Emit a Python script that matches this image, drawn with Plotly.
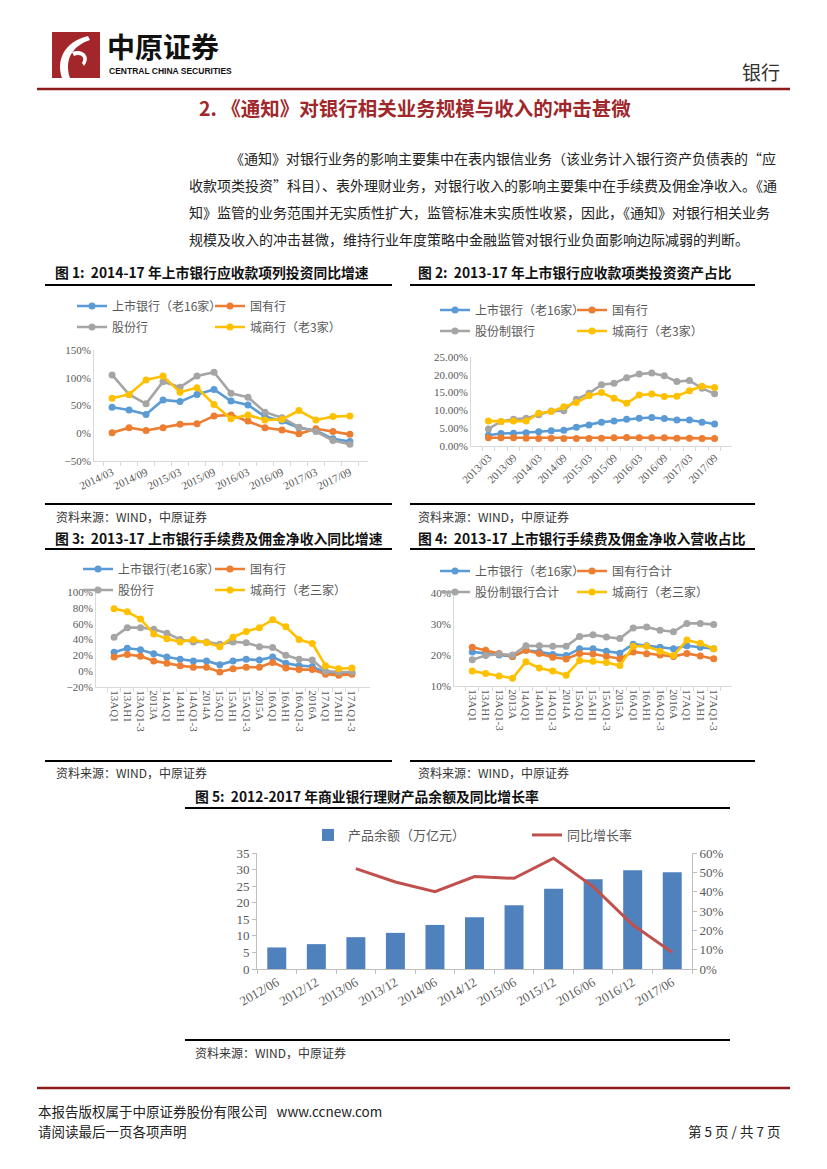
import plotly.graph_objects as go

W, H = 827, 1169
def X(px): return px / W
def Y(py): return 1 - py / H

CJK = "Noto Sans CJK SC"
NUM = "Liberation Serif, Noto Sans CJK SC"
C_BLUE, C_ORANGE, C_GRAY, C_YELLOW = "#5B9BD5", "#ED7D31", "#A5A5A5", "#FFC000"
AX = "#D9D9D9"
TXT = "#595959"

# ---------------- data ----------------
# Fig 1
f1_cats = ["2014/03", "2014/06", "2014/09", "2014/12", "2015/03", "2015/06", "2015/09", "2015/12",
           "2016/03", "2016/06", "2016/09", "2016/12", "2017/03", "2017/06", "2017/09"]
f1_names = ["上市银行（老16家）", "国有行", "股份行", "城商行（老3家）"]
f1_listed = [47, 42, 34, 60, 57, 70, 79, 58, 51, 30, 22, 10, 5, -10, -15]
f1_state = [1, 10, 5, 10, 16, 17, 31, 33, 22, 10, 6, -1, 8, 3, -2]
f1_joint = [105, 70, 53, 93, 83, 103, 110, 72, 65, 38, 28, 11, 3, -13, -20]
f1_city = [63, 70, 96, 103, 74, 82, 52, 26, 33, 24, 25, 41, 24, 30, 31]

# Fig 2
f2_cats = ["2013/03", "2013/06", "2013/09", "2013/12", "2014/03", "2014/06", "2014/09", "2014/12",
           "2015/03", "2015/06", "2015/09", "2015/12", "2016/03", "2016/06", "2016/09", "2016/12",
           "2017/03", "2017/06", "2017/09"]
f2_names = ["上市银行（老16家）", "国有行", "股份制银行", "城商行（老3家）"]
f2_listed = [3.0, 3.5, 3.6, 3.7, 4.0, 4.3, 4.4, 5.3, 5.9, 6.7, 7.0, 7.5, 7.8, 8.0, 7.7, 7.3, 7.3, 6.7, 6.2]
f2_state = [2.3, 2.3, 2.3, 2.2, 2.1, 2.2, 2.1, 2.1, 2.1, 2.2, 2.3, 2.4, 2.3, 2.3, 2.3, 2.2, 2.2, 2.1, 2.1]
f2_joint = [4.8, 6.9, 7.5, 7.8, 8.8, 9.8, 9.9, 13.1, 14.8, 17.2, 17.6, 19.2, 20.2, 20.5, 19.7, 18.1, 18.4, 16.2, 14.7]
f2_city = [7.0, 6.9, 7.0, 7.0, 9.2, 9.7, 11.0, 12.2, 14.1, 15.0, 13.4, 12.0, 14.3, 14.6, 13.9, 14.0, 15.5, 16.8, 16.4]

# Fig 3 / Fig 4
f34_cats = ["13AQ1", "13AH1", "13AQ1-3", "2013A", "14AQ1", "14AH1", "14AQ1-3", "2014A",
            "15AQ1", "15AH1", "15AQ1-3", "2015A", "16AQ1", "16AH1", "16AQ1-3", "2016A",
            "17AQ1", "17AH1", "17AQ1-3"]
f3_names = ["上市银行(老16家）", "国有行", "股份行", "城商行（老三家）"]
f3_listed = [24, 29, 27, 22, 18, 15, 13, 13, 8, 13, 15, 14, 18, 10, 7, 6, -2, -3, -2]
f3_state = [18, 21, 19, 13, 10, 7, 5, 5, -1, 3, 5, 5, 11, 4, 2, 2, -4, -5, -4]
f3_joint = [43, 55, 55, 53, 48, 40, 37, 37, 34, 37, 36, 31, 30, 20, 15, 14, 0, -1, -1]
f3_city = [79, 75, 66, 47, 41, 37, 40, 36, 31, 43, 50, 55, 65, 56, 40, 35, 7, 3, 4]

f4_names = ["上市银行（老16家）", "国有行合计", "股份制银行合计", "城商行（老三家）"]
f4_listed = [21.0, 20.5, 20.0, 19.5, 21.5, 21.0, 20.2, 19.8, 22.0, 22.0, 21.2, 20.6, 23.5, 23.0, 22.5, 22.0, 23.0, 22.5, 22.0]
f4_state = [22.5, 21.5, 20.5, 19.5, 21.5, 20.5, 19.3, 18.7, 20.5, 20.3, 19.5, 18.8, 21.0, 20.4, 20.0, 19.5, 20.5, 19.7, 18.8]
f4_joint = [18.5, 19.8, 20.3, 20.0, 23.0, 23.0, 22.8, 22.8, 26.0, 26.5, 25.8, 25.3, 28.7, 29.0, 28.0, 27.5, 30.2, 30.2, 29.8]
f4_city = [14.8, 14.0, 13.2, 12.5, 17.8, 15.8, 14.8, 13.5, 18.2, 18.0, 17.6, 16.6, 22.8, 22.8, 21.2, 19.8, 24.8, 23.8, 22.0]

# Fig 5
f5_cats = ["2012/06", "2012/12", "2013/06", "2013/12", "2014/06", "2014/12", "2015/06",
           "2015/12", "2016/06", "2016/12", "2017/06"]
f5_balance = [6.5, 7.5, 9.6, 10.9, 13.3, 15.6, 19.2, 24.2, 27.1, 29.8, 29.2]
f5_growth_cats = ["2013/06", "2013/12", "2014/06", "2014/12", "2015/06", "2015/12",
                  "2016/06", "2016/12", "2017/06"]
f5_growth = [51.9, 45.0, 40.0, 47.8, 46.9, 57.3, 42.6, 22.9, 8.6]
f5_names = ["产品余额（万亿元）", "同比增长率"]

paragraph = [
    "《通知》对银行业务的影响主要集中在表内银信业务（该业务计入银行资产负债表的“应",
    "收款项类投资”科目）、表外理财业务，对银行收入的影响主要集中在手续费及佣金净收入。《通",
    "知》监管的业务范围并无实质性扩大，监管标准未实质性收紧，因此，《通知》对银行相关业务",
    "规模及收入的冲击甚微，维持行业年度策略中金融监管对银行业负面影响边际减弱的判断。",
]

fig = go.Figure()

def add_lines(cats, series, names, colors, xa, ya, legends):
    for vals, nm, col, lg in zip(series, names, colors, legends):
        fig.add_trace(go.Scatter(
            x=cats, y=vals, name=nm, mode="lines+markers", xaxis=xa, yaxis=ya, legend=lg,
            line=dict(color=col, width=2.6), marker=dict(color=col, size=7, symbol="circle"),
            hoverinfo="skip"))

cols4 = [C_BLUE, C_ORANGE, C_GRAY, C_YELLOW]
add_lines(f1_cats, [f1_listed, f1_state, f1_joint, f1_city], f1_names, cols4, "x", "y",
          ["legend", "legend", "legend2", "legend2"])
add_lines(f2_cats, [f2_listed, f2_state, f2_joint, f2_city], f2_names, cols4, "x2", "y2",
          ["legend3", "legend3", "legend4", "legend4"])
add_lines(f34_cats, [f3_listed, f3_state, f3_joint, f3_city], f3_names, cols4, "x3", "y3",
          ["legend5", "legend5", "legend6", "legend6"])
add_lines(f34_cats, [f4_listed, f4_state, f4_joint, f4_city], f4_names, cols4, "x4", "y4",
          ["legend7", "legend7", "legend8", "legend8"])

fig.add_trace(go.Bar(x=f5_cats, y=f5_balance, name=f5_names[0], xaxis="x5", yaxis="y5",
                     marker=dict(color="#4F81BD", line=dict(width=0)), width=0.48,
                     legend="legend9", hoverinfo="skip"))
fig.add_trace(go.Scatter(x=f5_growth_cats, y=f5_growth, name=f5_names[1], mode="lines",
                         xaxis="x5", yaxis="y6", line=dict(color="#C0504D", width=3),
                         legend="legend9", hoverinfo="skip"))

def xdom(a, b): return [X(a), X(b)]
def ydom(top, bottom): return [Y(bottom), Y(top)]

def alt_labels(cats):
    return [c if i % 2 == 0 else "" for i, c in enumerate(cats)]

tickfont = dict(family=NUM, size=11, color=TXT)
base_x = dict(type="category", showgrid=False, zeroline=False, showline=True, linecolor=AX,
              linewidth=1, ticks="outside", ticklen=4, tickcolor=AX, tickfont=tickfont,
              fixedrange=True, automargin=False)
base_y = dict(showgrid=False, zeroline=False, showline=True, linecolor=AX, linewidth=1,
              ticks="", tickfont=tickfont, fixedrange=True, automargin=False)

lay = {}
lay["xaxis"] = dict(base_x, domain=xdom(94, 368), anchor="y", categoryarray=f1_cats,
                    categoryorder="array", tickson="boundaries", tickmode="array",
                    tickvals=f1_cats, ticktext=alt_labels(f1_cats), tickangle=-25)
lay["yaxis"] = dict(base_y, domain=ydom(350, 461), anchor="x", range=[-50, 150], dtick=50,
                    ticksuffix="%")
lay["xaxis2"] = dict(base_x, domain=xdom(471, 732), anchor="y2", categoryarray=f2_cats,
                     categoryorder="array", tickson="boundaries", tickmode="array",
                     tickvals=f2_cats, ticktext=alt_labels(f2_cats), tickangle=-45)
lay["yaxis2"] = dict(base_y, domain=ydom(357, 446), anchor="x2", range=[0, 25], dtick=5,
                     tickformat=".2f", ticksuffix="%")
lay["xaxis3"] = dict(base_x, domain=xdom(96, 370), anchor="y3", categoryarray=f34_cats,
                     categoryorder="array", tickson="boundaries", tickmode="array",
                     tickvals=f34_cats, ticktext=f34_cats, tickangle=90,
                     tickfont=dict(family=NUM, size=11, color=TXT))
lay["yaxis3"] = dict(base_y, domain=ydom(592, 687), anchor="x3", range=[-20, 100], dtick=20,
                     ticksuffix="%")
lay["xaxis4"] = dict(base_x, domain=xdom(454, 732), anchor="y4", categoryarray=f34_cats,
                     categoryorder="array", tickson="boundaries", tickmode="array",
                     tickvals=f34_cats, ticktext=f34_cats, tickangle=90,
                     tickfont=dict(family=NUM, size=11, color=TXT))
lay["yaxis4"] = dict(base_y, domain=ydom(593, 686), anchor="x4", range=[10, 40], dtick=10,
                     ticksuffix="%")
f5font = dict(family=NUM, size=13, color=TXT)
lay["xaxis5"] = dict(base_x, domain=xdom(257, 692), anchor="y5", categoryarray=f5_cats,
                     categoryorder="array", tickson="boundaries", tickmode="array",
                     tickvals=f5_cats, ticktext=f5_cats, tickangle=-30,
                     tickfont=f5font, linecolor="#BFBFBF", tickcolor="#BFBFBF")
lay["yaxis5"] = dict(base_y, domain=ydom(853, 969), anchor="x5", range=[0, 35], dtick=5,
                     tickfont=f5font, linecolor="#BFBFBF", ticks="outside", ticklen=4,
                     tickcolor="#BFBFBF")
lay["yaxis6"] = dict(base_y, domain=ydom(853, 969), anchor="x5", overlaying="y5", side="right",
                     range=[0, 60], dtick=10, ticksuffix="%", tickfont=f5font,
                     linecolor="#BFBFBF", ticks="outside", ticklen=4, tickcolor="#BFBFBF")

def leg(xp, yp, ew):
    return dict(x=X(xp), y=Y(yp), xanchor="left", yanchor="middle", orientation="h",
                bgcolor="rgba(0,0,0,0)", font=dict(family=CJK, size=12, color=TXT),
                entrywidth=ew, entrywidthmode="pixels", itemwidth=30, traceorder="normal",
                itemclick=False, itemdoubleclick=False)

lay["legend"] = leg(72, 306, 93)
lay["legend2"] = leg(72, 327, 93)
lay["legend3"] = leg(435, 310, 92)
lay["legend4"] = leg(435, 331, 92)
lay["legend5"] = leg(78, 569, 87)
lay["legend6"] = leg(78, 590, 87)
lay["legend7"] = leg(435, 571, 92)
lay["legend8"] = leg(435, 592, 92)
lay["legend9"] = dict(leg(308, 835, 174), font=dict(family=CJK, size=13, color=TXT))

shapes = []
annots = []

def hline(x0, x1, y, color="black", w=2):
    shapes.append(dict(type="line", xref="paper", yref="paper", x0=X(x0), x1=X(x1),
                       y0=Y(y), y1=Y(y), line=dict(color=color, width=w)))

def text(s, x, y, size=12, color="#222", bold=False, anchor="left", family=CJK):
    if bold:
        s = "<b>" + s + "</b>"
    annots.append(dict(text=s, x=X(x), y=Y(y), xref="paper", yref="paper", showarrow=False,
                       xanchor=anchor, yanchor="middle", font=dict(family=family, size=size,
                                                                     color=color)))

# header
shapes.append(dict(type="rect", xref="paper", yref="paper", x0=X(52), x1=X(100), y0=Y(78),
                   y1=Y(32), fillcolor="#A3262A", line=dict(width=0)))
shapes.append(dict(type="path", xref="paper", yref="paper",
                   path=f"M {X(62)} {Y(78)} C {X(56)} {Y(60)}, {X(64)} {Y(42)}, {X(88)} {Y(36)} "
                        f"L {X(90)} {Y(40)} C {X(72)} {Y(46)}, {X(64)} {Y(60)}, {X(70)} {Y(78)} Z",
                   fillcolor="white", line=dict(width=0)))
shapes.append(dict(type="path", xref="paper", yref="paper",
                   path=f"M {X(72)} {Y(52)} C {X(82)} {Y(48)}, {X(92)} {Y(56)}, {X(84)} {Y(66)} "
                        f"L {X(82)} {Y(63)} C {X(86)} {Y(57)}, {X(80)} {Y(53)}, {X(74)} {Y(56)} Z",
                   fillcolor="white", line=dict(width=0)))
text("中原证券", 105, 46, size=28, color="#111", bold=True)
text("CENTRAL CHINA SECURITIES", 107, 71, size=8.5, color="#111", bold=True,
     family="Liberation Sans, Arial")
text("银行", 782, 72, size=19, color="#333", anchor="right")
hline(37, 790, 89, color="#8E1B1B", w=2.5)
text("2. 《通知》对银行相关业务规模与收入的冲击甚微", 415, 108, size=19.5, color="#A0282C", bold=True,
     anchor="center")

# paragraph
para_y = [158, 185, 212, 239]
para_x = [228, 187, 187, 187]
for s, px, py in zip(paragraph, para_x, para_y):
    text(s, px, py, size=14, color="#222")

# figure titles and rules
TS = 13.8
text("图 1:  2014-17 年上市银行应收款项列投资同比增速", 53, 272, size=TS, color="#111", bold=True)
text("图 2:  2013-17 年上市银行应收款项类投资资产占比", 416, 272, size=TS, color="#111", bold=True)
hline(45, 392, 285)
hline(410, 755, 285)
hline(45, 392, 504)
hline(410, 755, 504)
text("资料来源：WIND，中原证券", 54, 516, size=12, color="#333")
text("资料来源：WIND，中原证券", 416, 516, size=12, color="#333")
text("图 3:  2013-17 上市银行手续费及佣金净收入同比增速", 53, 538, size=TS, color="#111", bold=True)
text("图 4:  2013-17 上市银行手续费及佣金净收入营收占比", 416, 538, size=TS, color="#111", bold=True)
hline(45, 392, 549)
hline(410, 755, 549)
hline(45, 392, 761)
hline(410, 755, 761)
text("资料来源：WIND，中原证券", 54, 772, size=12, color="#333")
text("资料来源：WIND，中原证券", 416, 772, size=12, color="#333")
text("图 5:  2012-2017 年商业银行理财产品余额及同比增长率", 193, 796, size=TS, color="#111", bold=True)
hline(185, 730, 808)
hline(185, 730, 1040)
text("资料来源：WIND，中原证券", 193, 1052, size=12, color="#333")

# footer
hline(37, 790, 1088, color="#8E1B1B", w=2.5)
text("本报告版权属于中原证券股份有限公司   www.ccnew.com", 36, 1111, size=13.5, color="#222")
text("请阅读最后一页各项声明", 36, 1131, size=13.5, color="#222")
text("第 5 页 / 共 7 页", 782, 1131, size=13.5, color="#222", anchor="right")

fig.update_layout(width=W, height=H, margin=dict(l=0, r=0, t=0, b=0, autoexpand=False),
                  paper_bgcolor="white",
                  plot_bgcolor="white", showlegend=True, shapes=shapes, annotations=annots,
                  font=dict(family=CJK), **lay)

fig.write_html("out.html", config={"displayModeBar": False},
               post_script="document.body.style.margin='0px';")
